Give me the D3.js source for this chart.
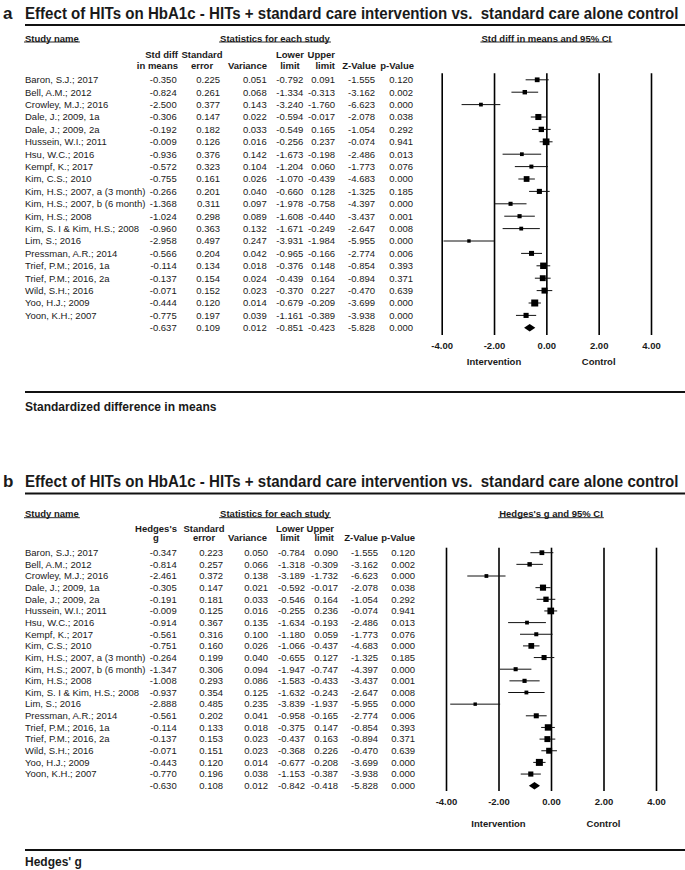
<!DOCTYPE html>
<html><head><meta charset="utf-8">
<script src="https://cdn.jsdelivr.net/npm/d3@7"></script>
<style>
body{margin:0;background:#fff}
svg{display:block}
text{font-family:"Liberation Sans",Arial,Helvetica,sans-serif;fill:#1a1a1a}
</style>
</head><body>
<svg id="chart" width="685" height="870"></svg>
<script>
// ---------- DATA ----------
const studies = [
  "Baron, S.J.; 2017","Bell, A.M.; 2012","Crowley, M.J.; 2016","Dale, J.; 2009, 1a","Dale, J.; 2009, 2a",
  "Hussein, W.I.; 2011","Hsu, W.C.; 2016","Kempf, K.; 2017","Kim, C.S.; 2010","Kim, H.S.; 2007, a (3 month)",
  "Kim, H.S.; 2007, b (6 month)","Kim, H.S.; 2008","Kim, S. I & Kim, H.S.; 2008","Lim, S.; 2016","Pressman, A.R.; 2014",
  "Trief, P.M.; 2016, 1a","Trief, P.M.; 2016, 2a","Wild, S.H.; 2016","Yoo, H.J.; 2009","Yoon, K.H.; 2007"
];

// Panel a: Std diff in means
const smdA   = [-0.350,-0.824,-2.500,-0.306,-0.192,-0.009,-0.936,-0.572,-0.755,-0.266,-1.368,-1.024,-0.960,-2.958,-0.566,-0.114,-0.137,-0.071,-0.444,-0.775];
const seA    = [0.225,0.261,0.377,0.147,0.182,0.126,0.376,0.323,0.161,0.201,0.311,0.298,0.363,0.497,0.204,0.134,0.154,0.152,0.120,0.197];
const varA   = [0.051,0.068,0.143,0.022,0.033,0.016,0.142,0.104,0.026,0.040,0.097,0.089,0.132,0.247,0.042,0.018,0.024,0.023,0.014,0.039];
const lowA   = [-0.792,-1.334,-3.240,-0.594,-0.549,-0.256,-1.673,-1.204,-1.070,-0.660,-1.978,-1.608,-1.671,-3.931,-0.965,-0.376,-0.439,-0.370,-0.679,-1.161];
const upA    = [0.091,-0.313,-1.760,-0.017,0.165,0.237,-0.198,0.060,-0.439,0.128,-0.758,-0.440,-0.249,-1.984,-0.166,0.148,0.164,0.227,-0.209,-0.389];
const zA     = [-1.555,-3.162,-6.623,-2.078,-1.054,-0.074,-2.486,-1.773,-4.683,-1.325,-4.397,-3.437,-2.647,-5.955,-2.774,-0.854,-0.894,-0.470,-3.699,-3.938];
const pA     = [0.120,0.002,0.000,0.038,0.292,0.941,0.013,0.076,0.000,0.185,0.000,0.001,0.008,0.000,0.006,0.393,0.371,0.639,0.000,0.000];
const summaryA = [-0.637,0.109,0.012,-0.851,-0.423,-5.828,0.000];

// Panel b: Hedges's g
const gB     = [-0.347,-0.814,-2.461,-0.305,-0.191,-0.009,-0.914,-0.561,-0.751,-0.264,-1.347,-1.008,-0.937,-2.888,-0.561,-0.114,-0.137,-0.071,-0.443,-0.770];
const seB    = [0.223,0.257,0.372,0.147,0.181,0.125,0.367,0.316,0.160,0.199,0.306,0.293,0.354,0.485,0.202,0.133,0.153,0.151,0.120,0.196];
const varB   = [0.050,0.066,0.138,0.021,0.033,0.016,0.135,0.100,0.026,0.040,0.094,0.086,0.125,0.235,0.041,0.018,0.023,0.023,0.014,0.038];
const lowB   = [-0.784,-1.318,-3.189,-0.592,-0.546,-0.255,-1.634,-1.180,-1.066,-0.655,-1.947,-1.583,-1.632,-3.839,-0.958,-0.375,-0.437,-0.368,-0.677,-1.153];
const upB    = [0.090,-0.309,-1.732,-0.017,0.164,0.236,-0.193,0.059,-0.437,0.127,-0.747,-0.433,-0.243,-1.937,-0.165,0.147,0.163,0.226,-0.208,-0.387];
const zB     = [-1.555,-3.162,-6.623,-2.078,-1.054,-0.074,-2.486,-1.773,-4.683,-1.325,-4.397,-3.437,-2.647,-5.955,-2.774,-0.854,-0.894,-0.470,-3.699,-3.938];
const pB     = [0.120,0.002,0.000,0.038,0.292,0.941,0.013,0.076,0.000,0.185,0.000,0.001,0.008,0.000,0.006,0.393,0.371,0.639,0.000,0.000];
const summaryB = [-0.630,0.108,0.012,-0.842,-0.418,-5.828,0.000];

const tickValues = [-4, -2, 0, 2, 4];
const axisDomain = [-4, 4];
const titleText = "Effect of HITs on HbA1c - HITs + standard care intervention vs.\u00A0 standard care alone control";
const colHeadsA = [["Std diff","in means"],["Standard","error"],["","Variance"],["Lower","limit"],["Upper","limit"],["","Z-Value"],["","p-Value"]];
const colHeadsB = [["Hedges's","g"],["Standard","error"],["","Variance"],["Lower","limit"],["Upper","limit"],["","Z-Value"],["","p-Value"]];
const leftLabel = "Intervention", rightLabel = "Control";

// ---------- LAYOUT ----------
const panels = [
  {
    letter:"a", forestHead:"Std diff in means and 95% CI", foot:"Standardized difference in means",
    heads: colHeadsA, cols:[smdA,seA,varA,lowA,upA,zA,pA], summary: summaryA,
    titleY:19, ruleY:25, headY:38.5, ulY:42, head1Y:54.5, head2Y:65.5,
    row0:79.8, step:12.4, vTop:73.3, vBot:335, tickPad:7.5, dirY:362, botRule:392, footY:407,
    colRight:[176.7,220,266.7,303.3,335,375,413],
    headX:[178,202,267,290,335,376,414], headAnchor:["end","middle","end","middle","end","end","end"],
    xRange:[441.7,651]
  },
  {
    letter:"b", forestHead:"Hedges's g and 95% CI", foot:"Hedges' g",
    heads: colHeadsB, cols:[gB,seB,varB,lowB,upB,zB,pB], summary: summaryB,
    titleY:486.5, ruleY:493.5, headY:513.5, ulY:517.7, head1Y:528.3, head2Y:538,
    row0:552.7, step:11.65, vTop:547.7, vBot:791, tickPad:7, dirY:824, botRule:850, footY:861.5,
    colRight:[176.7,223,268,305,338,378,415],
    headX:[156,204,267,290,334,378,415], headAnchor:["middle","middle","end","middle","end","end","end"],
    xRange:[446,656]
  }
];

const svg = d3.select("#chart");
const f3 = d3.format(".3f");
const fmt = v => f3(v).replace("\u2212","-");
const bodySize = 9.5;

panels.forEach(P => {
  const g = svg.append("g");
  // letter + title (condensed horizontally to fit the width)
  g.append("text").attr("x",3).attr("y",P.titleY).attr("font-size",17).attr("font-weight","bold").text(P.letter);
  const tg = g.append("g");
  const tt = tg.append("text").attr("x",0).attr("y",0).attr("font-size",17).attr("font-weight","bold").text(titleText);
  const tw = tt.node().getComputedTextLength();
  tg.attr("transform",`translate(25,${P.titleY}) scale(${654/tw},1)`);
  g.append("line").attr("x1",25).attr("x2",685).attr("y1",P.ruleY).attr("y2",P.ruleY)
    .attr("stroke","#111").attr("stroke-width",1.8);

  // underlined section headers
  function uhead(text, x, anchor){
    const t = g.append("text").attr("x",x).attr("y",P.headY).attr("dy","0.35em")
      .attr("font-size",9.5).attr("font-weight","bold").attr("text-anchor",anchor).text(text);
    const w = t.node().getComputedTextLength();
    const x0 = anchor==="start" ? x : anchor==="middle" ? x - w/2 : x - w;
    g.append("line").attr("x1",x0-1).attr("x2",x0+w+1).attr("y1",P.ulY).attr("y2",P.ulY)
      .attr("stroke","#111").attr("stroke-width",0.9);
  }
  uhead("Study name", 25, "start");
  uhead("Statistics for each study", 275, "middle");
  const x = d3.scaleLinear().domain(axisDomain).range(P.xRange);
  uhead(P.forestHead, x(0), "middle");

  // column headers
  P.heads.forEach((h,i) => {
    [h[0],h[1]].forEach((s,k) => {
      if(!s) return;
      g.append("text").attr("x",P.headX[i]).attr("y",k===0?P.head1Y:P.head2Y).attr("dy","0.35em")
        .attr("font-size",9.5).attr("font-weight","bold").attr("text-anchor",P.headAnchor[i]).text(s);
    });
  });

  const yRow = i => P.row0 + i*P.step;

  // study names
  g.selectAll(null).data(studies).enter().append("text")
    .attr("x",25).attr("y",(d,i)=>yRow(i)).attr("dy","0.35em").attr("font-size",bodySize).text(d=>d);

  // numeric columns
  P.cols.forEach((arr,c) => {
    g.selectAll(null).data(arr).enter().append("text")
      .attr("x",P.colRight[c]).attr("y",(d,i)=>yRow(i)).attr("dy","0.35em")
      .attr("font-size",bodySize).attr("text-anchor","end").text(d=>fmt(d));
    g.append("text").attr("x",P.colRight[c]).attr("y",yRow(studies.length)).attr("dy","0.35em")
      .attr("font-size",bodySize).attr("text-anchor","end").text(fmt(P.summary[c]));
  });

  // forest axis (vertical reference lines as ticks)
  const axis = d3.axisBottom(x).tickValues(tickValues).tickFormat(d3.format(".2f"))
    .tickSizeInner(-(P.vBot-P.vTop)).tickSizeOuter(0).tickPadding(P.tickPad);
  const ax = g.append("g").attr("transform",`translate(0,${P.vBot})`).call(axis);
  ax.select(".domain").remove();
  ax.selectAll(".tick line").attr("stroke","#000").attr("stroke-width",1.6);
  ax.selectAll(".tick text").attr("font-size",9.5).attr("font-weight","bold")
    .attr("font-family","'Liberation Sans',Arial,sans-serif").attr("fill","#111")
    .text(d => d3.format(".2f")(d).replace("\u2212","-"));

  // CI lines + squares
  const est = P.cols[0], lo = P.cols[3], hi = P.cols[4], vv = P.cols[2];
  const sw = vv.map(v => Math.sqrt(1/v));
  const size = d3.scaleLinear().domain(d3.extent(sw)).range([3.4,7]);
  const mk = g.append("g");
  mk.selectAll(null).data(est).enter().append("line")
    .attr("x1",(d,i)=>x(lo[i])).attr("x2",(d,i)=>x(hi[i]))
    .attr("y1",(d,i)=>yRow(i)).attr("y2",(d,i)=>yRow(i))
    .attr("stroke","#111").attr("stroke-width",1);
  mk.selectAll(null).data(est).enter().append("rect")
    .attr("x",(d,i)=>x(d)-size(sw[i])/2).attr("y",(d,i)=>yRow(i)-size(sw[i])/2)
    .attr("width",(d,i)=>size(sw[i])).attr("height",(d,i)=>size(sw[i])).attr("fill","#000");

  // summary diamond
  const ys = yRow(studies.length), hd = 3.8;
  const S = P.summary;
  mk.append("path").attr("fill","#000")
    .attr("d",`M${x(S[3])},${ys}L${x(S[0])},${ys-hd}L${x(S[4])},${ys}L${x(S[0])},${ys+hd}Z`);

  // direction labels
  g.append("text").attr("x",x(-2)).attr("y",P.dirY).attr("dy","0.35em").attr("font-size",9.5)
    .attr("font-weight","bold").attr("text-anchor","middle").text(leftLabel);
  g.append("text").attr("x",x(2)).attr("y",P.dirY).attr("dy","0.35em").attr("font-size",9.5)
    .attr("font-weight","bold").attr("text-anchor","middle").text(rightLabel);

  // bottom rule + footnote
  g.append("line").attr("x1",25).attr("x2",685).attr("y1",P.botRule).attr("y2",P.botRule)
    .attr("stroke","#111").attr("stroke-width",1.8);
  g.append("text").attr("x",25).attr("y",P.footY).attr("dy","0.35em").attr("font-size",12)
    .attr("font-weight","bold").text(P.foot);
});
</script>
</body></html>
